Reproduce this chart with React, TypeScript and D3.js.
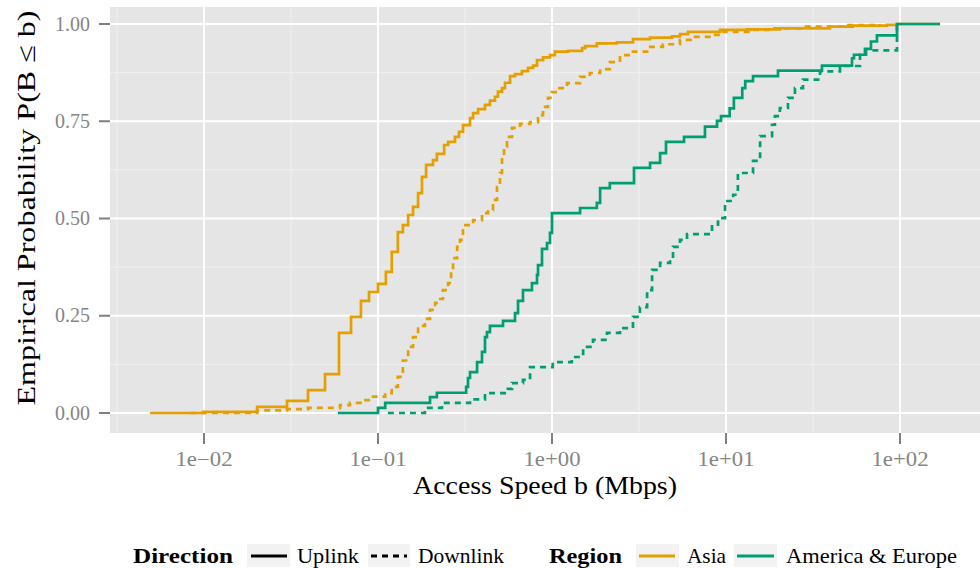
import React from "react";
import * as d3 from "d3";

// ---------- data (speed in Mbps, cumulative probability) ----------
const xTicks = [0.01, 0.1, 1, 10, 100];
const xTickLabels = ["1e\u221202", "1e\u221201", "1e+00", "1e+01", "1e+02"];
const xMinor = [-2.5, -1.5, -0.5, 0.5, 1.5, 2.5].map((e) => Math.pow(10, e));
const yTicks = [0, 0.25, 0.5, 0.75, 1];
const yTickLabels = ["0.00", "0.25", "0.50", "0.75", "1.00"];
const yMinor = [0.125, 0.375, 0.625, 0.875];

const asiaUplink: [number, number][] = [
  [0.0049, 0], [0.0099, 0.003], [0.0202, 0.016], [0.03, 0.031], [0.0396, 0.059],
  [0.0496, 0.1], [0.0597, 0.206], [0.07, 0.247], [0.0798, 0.288], [0.0888, 0.311],
  [0.1, 0.332], [0.111, 0.363], [0.12, 0.414], [0.13, 0.465], [0.139, 0.483],
  [0.149, 0.509], [0.159, 0.53], [0.17, 0.565], [0.179, 0.607], [0.189, 0.638],
  [0.207, 0.65], [0.218, 0.666], [0.24, 0.689], [0.253, 0.697], [0.277, 0.71],
  [0.292, 0.723], [0.308, 0.74], [0.338, 0.758], [0.352, 0.771], [0.376, 0.781],
  [0.412, 0.792], [0.44, 0.803], [0.47, 0.813], [0.489, 0.826], [0.516, 0.835],
  [0.537, 0.849], [0.574, 0.866], [0.613, 0.871], [0.672, 0.879], [0.728, 0.887],
  [0.778, 0.893], [0.82, 0.907], [0.888, 0.914], [0.974, 0.92], [1.04, 0.929],
  [1.24, 0.931], [1.49, 0.938], [1.55, 0.943], [1.81, 0.95], [2.36, 0.953],
  [2.92, 0.961], [3.66, 0.965], [4.9, 0.968], [5.44, 0.974], [6.05, 0.98],
  [9.24, 0.985], [13.2, 0.986], [20.4, 0.989], [39.6, 0.993], [53.7, 0.996],
  [84.2, 0.998], [96.1, 1.0], [170, 1.0],
];

const asiaDownlink: [number, number][] = [
  [0.0083, 0], [0.0202, 0.007], [0.03, 0.01], [0.0396, 0.013], [0.0605, 0.02],
  [0.069, 0.026], [0.081, 0.033], [0.0936, 0.042], [0.11, 0.051], [0.12, 0.067],
  [0.13, 0.093], [0.139, 0.135], [0.149, 0.17], [0.159, 0.195], [0.17, 0.224],
  [0.186, 0.242], [0.199, 0.265], [0.213, 0.283], [0.221, 0.293], [0.236, 0.316],
  [0.253, 0.334], [0.263, 0.368], [0.27, 0.398], [0.285, 0.427], [0.296, 0.445],
  [0.308, 0.483], [0.352, 0.496], [0.396, 0.514], [0.429, 0.522], [0.458, 0.548],
  [0.483, 0.581], [0.502, 0.617], [0.516, 0.658], [0.53, 0.684], [0.551, 0.71],
  [0.589, 0.733], [0.655, 0.743], [0.748, 0.748], [0.831, 0.766], [0.888, 0.787],
  [0.948, 0.81], [1.0, 0.825], [1.07, 0.835], [1.22, 0.848], [1.45, 0.864],
  [1.65, 0.874], [1.89, 0.884], [2.15, 0.902], [2.46, 0.92], [2.92, 0.929],
  [3.52, 0.941], [4.34, 0.948], [5.44, 0.959], [6.46, 0.967], [8.42, 0.972],
  [9.61, 0.98], [14.3, 0.985], [17.9, 0.989], [26.6, 0.993], [49.6, 0.997],
  [76.7, 1.0],
];

const ameuUplink: [number, number][] = [
  [0.0589, 0], [0.1, 0.013], [0.11, 0.026], [0.199, 0.041], [0.218, 0.052],
  [0.321, 0.067], [0.329, 0.09], [0.338, 0.105], [0.371, 0.131], [0.396, 0.157],
  [0.412, 0.195], [0.423, 0.208], [0.44, 0.224], [0.523, 0.237], [0.613, 0.257],
  [0.638, 0.288], [0.681, 0.316], [0.767, 0.334], [0.82, 0.355], [0.831, 0.38],
  [0.876, 0.422], [0.936, 0.437], [0.974, 0.463], [1.0, 0.514], [1.45, 0.527],
  [1.81, 0.54], [1.89, 0.578], [2.15, 0.591], [2.96, 0.63], [3.66, 0.643],
  [4.18, 0.668], [4.52, 0.697], [5.74, 0.71], [7.57, 0.736], [8.88, 0.751],
  [9.36, 0.763], [10.5, 0.783], [11.1, 0.81], [12.4, 0.835], [12.9, 0.853],
  [14.3, 0.866], [19.9, 0.88], [35.6, 0.893], [53.0, 0.912], [54.4, 0.921],
  [62.9, 0.936], [68.1, 0.955], [73.7, 0.971], [96.1, 1.0], [170, 1.0],
];

const ameuDownlink: [number, number][] = [
  [0.114, 0], [0.186, 0.013], [0.233, 0.026], [0.338, 0.035], [0.412, 0.051],
  [0.558, 0.062], [0.589, 0.077], [0.681, 0.085], [0.748, 0.118], [1.01, 0.131],
  [1.3, 0.144], [1.51, 0.17], [1.72, 0.188], [2.07, 0.206], [2.46, 0.218],
  [2.92, 0.247], [3.2, 0.272], [3.52, 0.316], [3.76, 0.368], [4.18, 0.386],
  [4.77, 0.396], [4.96, 0.427], [5.44, 0.445], [5.97, 0.46], [8.31, 0.484],
  [9.0, 0.501], [9.87, 0.545], [11.0, 0.561], [11.7, 0.617], [14.3, 0.648],
  [15.7, 0.712], [18.4, 0.741], [19.1, 0.763], [20.4, 0.784], [22.7, 0.81],
  [24.9, 0.835], [27.7, 0.857], [34.7, 0.878], [45.2, 0.892], [58.9, 0.921],
  [63.8, 0.932], [96.1, 1.0],
];

const regionNames = ["Asia", "America & Europe"];
const regionColors = ["#E69F00", "#009E73"];
const directionNames = ["Uplink", "Downlink"];

const series = [
  { data: asiaUplink, region: 0, dir: 0 },
  { data: asiaDownlink, region: 0, dir: 1 },
  { data: ameuUplink, region: 1, dir: 0 },
  { data: ameuDownlink, region: 1, dir: 1 },
];

// ---------- layout ----------
const W = 980;
const H = 568;
const panel = { left: 110, top: 7, right: 980, bottom: 433 };
const FONT = "'Liberation Serif', 'DejaVu Serif', serif";
const DASH = "6,5";

export default function App() {
  const x = d3.scaleLog().domain([0.01, 100]).range([204, 900]);
  const y = d3.scaleLinear().domain([0, 1]).range([413, 24]);
  const line = d3
    .line<[number, number]>()
    .x((d) => x(d[0]))
    .y((d) => y(d[1]))
    .curve(d3.curveStepAfter);

  const legendY = 556;
  const boxTop = 544;
  const boxH = 23;

  return (
    <svg
      width={W}
      height={H}
      style={{ position: "absolute", left: 0, top: 0, display: "block" }}
      fontFamily={FONT}
    >
      <defs>
        <clipPath id="panelClip">
          <rect x={panel.left} y={panel.top} width={panel.right - panel.left} height={panel.bottom - panel.top} />
        </clipPath>
      </defs>
      <rect width={W} height={H} fill="#ffffff" />
      <rect
        x={panel.left}
        y={panel.top}
        width={panel.right - panel.left}
        height={panel.bottom - panel.top}
        fill="#E5E5E5"
      />
      <g clipPath="url(#panelClip)">
        {yMinor.map((v) => (
          <line key={"ym" + v} x1={panel.left} x2={panel.right} y1={y(v)} y2={y(v)} stroke="#F2F2F2" strokeWidth={0.9} />
        ))}
        {xMinor.map((v) => (
          <line key={"xm" + v} x1={x(v)} x2={x(v)} y1={panel.top} y2={panel.bottom} stroke="#F2F2F2" strokeWidth={0.9} />
        ))}
        {yTicks.map((v) => (
          <line key={"yM" + v} x1={panel.left} x2={panel.right} y1={y(v)} y2={y(v)} stroke="#ffffff" strokeWidth={1.8} />
        ))}
        {xTicks.map((v) => (
          <line key={"xM" + v} x1={x(v)} x2={x(v)} y1={panel.top} y2={panel.bottom} stroke="#ffffff" strokeWidth={1.8} />
        ))}
        {series.map((s, i) => (
          <path
            key={i}
            d={line(s.data) || ""}
            fill="none"
            stroke={regionColors[s.region]}
            strokeWidth={2.7}
            strokeDasharray={s.dir === 1 ? DASH : undefined}
            strokeLinejoin="miter"
          />
        ))}
      </g>

      {/* y axis */}
      {yTicks.map((v, i) => (
        <g key={"yt" + v}>
          <line x1={99} x2={110} y1={y(v)} y2={y(v)} stroke="#7F7F7F" strokeWidth={2} />
          <text x={90} y={y(v) + 6.5} textAnchor="end" fontSize={20} fill="#858585">
            {yTickLabels[i]}
          </text>
        </g>
      ))}
      {/* x axis */}
      {xTicks.map((v, i) => (
        <g key={"xt" + v}>
          <line x1={x(v)} x2={x(v)} y1={433} y2={444} stroke="#7F7F7F" strokeWidth={2} />
          <text
            x={x(v)}
            y={466}
            textAnchor="middle"
            fontSize={20}
            fill="#858585"
            textLength={57}
            lengthAdjust="spacingAndGlyphs"
          >
            {xTickLabels[i]}
          </text>
        </g>
      ))}

      <text x={545} y={494} textAnchor="middle" fontSize={26} fill="#000" textLength={264} lengthAdjust="spacingAndGlyphs">
        Access Speed b (Mbps)
      </text>
      <text
        transform="translate(35,208) rotate(-90)"
        textAnchor="middle"
        fontSize={26}
        fill="#000"
        textLength={395}
        lengthAdjust="spacingAndGlyphs"
      >
        Empirical Probability P(B ≤ b)
      </text>

      {/* legend */}
      <text x={133} y={563} fontSize={22} fontWeight="bold" textLength={100} lengthAdjust="spacingAndGlyphs">
        Direction
      </text>
      <rect x={247} y={boxTop} width={43} height={boxH} fill="#F2F2F2" />
      <line x1={251} x2={287} y1={legendY} y2={legendY} stroke="#000" strokeWidth={2.8} />
      <text x={297} y={563} fontSize={22} textLength={62} lengthAdjust="spacingAndGlyphs">
        {directionNames[0]}
      </text>
      <rect x={368} y={boxTop} width={42} height={boxH} fill="#F2F2F2" />
      <line x1={371} x2={407} y1={legendY} y2={legendY} stroke="#000" strokeWidth={2.8} strokeDasharray={DASH} />
      <text x={418} y={563} fontSize={22} textLength={86} lengthAdjust="spacingAndGlyphs">
        {directionNames[1]}
      </text>

      <text x={549} y={563} fontSize={22} fontWeight="bold" textLength={73} lengthAdjust="spacingAndGlyphs">
        Region
      </text>
      <rect x={636} y={boxTop} width={43} height={boxH} fill="#F2F2F2" />
      <line x1={639} x2={675} y1={legendY} y2={legendY} stroke={regionColors[0]} strokeWidth={2.8} />
      <text x={687} y={563} fontSize={22} textLength={39} lengthAdjust="spacingAndGlyphs">
        {regionNames[0]}
      </text>
      <rect x={734} y={boxTop} width={43} height={boxH} fill="#F2F2F2" />
      <line x1={737} x2={774} y1={legendY} y2={legendY} stroke={regionColors[1]} strokeWidth={2.8} />
      <text x={786} y={563} fontSize={22} textLength={171} lengthAdjust="spacingAndGlyphs">
        {regionNames[1]}
      </text>
    </svg>
  );
}
